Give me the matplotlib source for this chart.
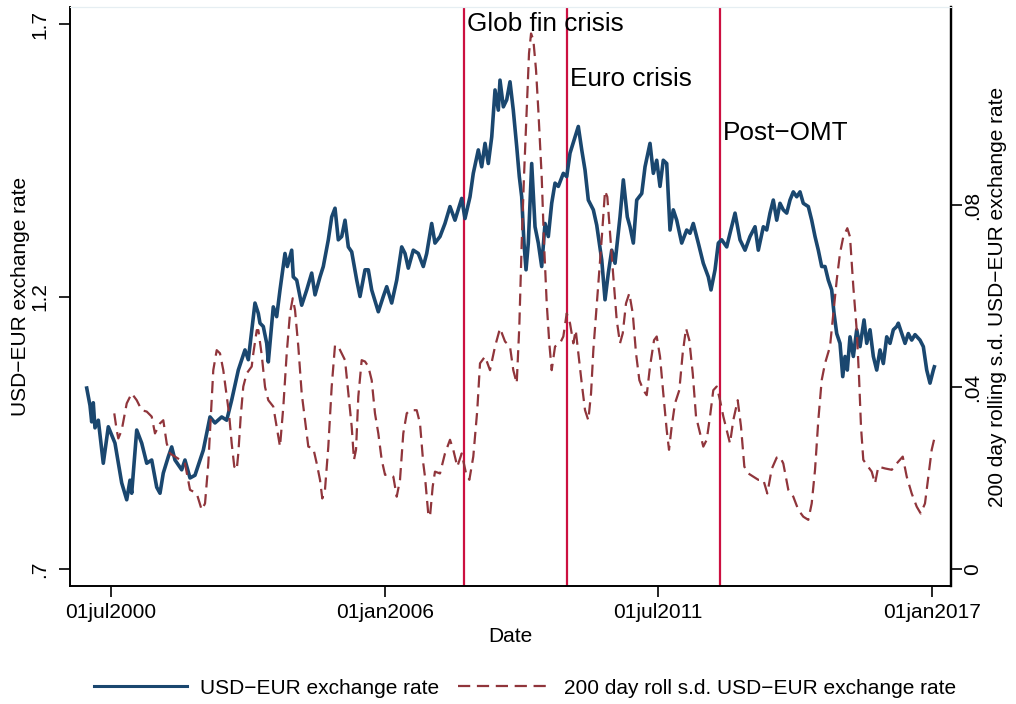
import matplotlib
matplotlib.use("Agg")
import matplotlib.pyplot as plt
from matplotlib.lines import Line2D

plt.rcParams["font.family"] = ["Liberation Sans", "DejaVu Sans"]

# USD-EUR exchange rate (decimal year, rate)
fx_year = [
    2000.012, 2000.078, 2000.112, 2000.144, 2000.178, 2000.245, 2000.345, 2000.446,
    2000.580, 2000.715, 2000.816, 2000.882, 2000.916, 2001.017, 2001.117, 2001.218,
    2001.318, 2001.419, 2001.485, 2001.551, 2001.652, 2001.720, 2001.786, 2001.921,
    2001.987, 2002.088, 2002.188, 2002.355, 2002.490, 2002.590, 2002.725, 2002.826,
    2002.926, 2003.059, 2003.193, 2003.260, 2003.394, 2003.461, 2003.495, 2003.561,
    2003.630, 2003.662, 2003.762, 2003.830, 2003.897, 2003.997, 2004.044, 2004.132,
    2004.164, 2004.233, 2004.333, 2004.434, 2004.534, 2004.601, 2004.701, 2004.767,
    2004.868, 2004.936, 2005.003, 2005.069, 2005.137, 2005.204, 2005.270, 2005.338,
    2005.439, 2005.505, 2005.606, 2005.672, 2005.740, 2005.873, 2005.973, 2006.042,
    2006.142, 2006.243, 2006.343, 2006.410, 2006.476, 2006.576, 2006.677, 2006.777,
    2006.846, 2006.946, 2007.012, 2007.113, 2007.213, 2007.314, 2007.414, 2007.549,
    2007.615, 2007.716, 2007.782, 2007.883, 2007.951, 2008.018, 2008.084, 2008.153,
    2008.219, 2008.285, 2008.319, 2008.386, 2008.454, 2008.520, 2008.586, 2008.655,
    2008.707, 2008.755, 2008.801, 2008.842, 2008.888, 2008.956, 2009.023, 2009.089,
    2009.157, 2009.224, 2009.290, 2009.358, 2009.425, 2009.491, 2009.592, 2009.660,
    2009.726, 2009.827, 2009.893, 2009.962, 2010.028, 2010.094, 2010.195, 2010.263,
    2010.364, 2010.430, 2010.496, 2010.565, 2010.631, 2010.731, 2010.798, 2010.878,
    2010.932, 2010.999, 2011.067, 2011.168, 2011.234, 2011.334, 2011.401, 2011.469,
    2011.535, 2011.601, 2011.670, 2011.736, 2011.802, 2011.871, 2011.971, 2012.072,
    2012.138, 2012.204, 2012.305, 2012.405, 2012.506, 2012.560, 2012.641, 2012.707,
    2012.775, 2012.876, 2012.942, 2013.043, 2013.143, 2013.244, 2013.344, 2013.445,
    2013.511, 2013.612, 2013.680, 2013.746, 2013.812, 2013.881, 2013.947, 2014.013,
    2014.082, 2014.148, 2014.214, 2014.283, 2014.349, 2014.415, 2014.516, 2014.584,
    2014.651, 2014.717, 2014.785, 2014.852, 2014.918, 2014.986, 2015.033, 2015.087,
    2015.153, 2015.208, 2015.254, 2015.300, 2015.354, 2015.421, 2015.489, 2015.555,
    2015.636, 2015.690, 2015.756, 2015.823, 2015.891, 2015.957, 2016.024, 2016.092,
    2016.158, 2016.225, 2016.293, 2016.325, 2016.394, 2016.460, 2016.526, 2016.594,
    2016.661, 2016.761, 2016.828, 2016.896, 2016.962, 2017.029, 2017.049,
]
fx_rate = [
    1.032, 1.000, 0.970, 1.005, 0.959, 0.973, 0.894, 0.961,
    0.931, 0.858, 0.827, 0.863, 0.839, 0.955, 0.931, 0.894,
    0.900, 0.850, 0.839, 0.876, 0.906, 0.924, 0.900, 0.882,
    0.900, 0.867, 0.872, 0.918, 0.979, 0.968, 0.979, 0.973,
    1.010, 1.065, 1.102, 1.084, 1.188, 1.169, 1.151, 1.145,
    1.114, 1.080, 1.181, 1.163, 1.212, 1.279, 1.255, 1.285,
    1.236, 1.230, 1.184, 1.212, 1.243, 1.203, 1.236, 1.255,
    1.304, 1.346, 1.362, 1.304, 1.310, 1.340, 1.291, 1.282,
    1.230, 1.200, 1.249, 1.249, 1.212, 1.172, 1.200, 1.218,
    1.188, 1.230, 1.291, 1.279, 1.252, 1.285, 1.279, 1.255,
    1.279, 1.334, 1.298, 1.310, 1.334, 1.365, 1.340, 1.380,
    1.343, 1.383, 1.426, 1.469, 1.438, 1.481, 1.444, 1.493,
    1.579, 1.542, 1.597, 1.548, 1.561, 1.594, 1.542, 1.475,
    1.420, 1.383, 1.298, 1.249, 1.298, 1.444, 1.328, 1.298,
    1.255, 1.334, 1.310, 1.371, 1.408, 1.402, 1.426, 1.420,
    1.463, 1.493, 1.512, 1.469, 1.432, 1.377, 1.359, 1.331,
    1.267, 1.194, 1.243, 1.285, 1.261, 1.346, 1.414, 1.346,
    1.328, 1.298, 1.377, 1.389, 1.438, 1.481, 1.426, 1.450,
    1.402, 1.450, 1.444, 1.322, 1.359, 1.340, 1.298, 1.322,
    1.316, 1.334, 1.298, 1.261, 1.236, 1.212, 1.249, 1.298,
    1.304, 1.291, 1.316, 1.353, 1.304, 1.285, 1.310, 1.328,
    1.285, 1.328, 1.322, 1.353, 1.377, 1.340, 1.371, 1.359,
    1.353, 1.377, 1.392, 1.383, 1.392, 1.371, 1.365, 1.340,
    1.310, 1.285, 1.255, 1.255, 1.230, 1.212, 1.169, 1.132,
    1.114, 1.053, 1.090, 1.065, 1.126, 1.090, 1.139, 1.108,
    1.157, 1.114, 1.139, 1.090, 1.065, 1.102, 1.077, 1.126,
    1.114, 1.139, 1.145, 1.151, 1.132, 1.114, 1.132, 1.120,
    1.130, 1.120, 1.108, 1.065, 1.041, 1.065, 1.071,
]

# 200 day rolling s.d. (decimal year, s.d.)
sd_year = [
    2000.566, 2000.615, 2000.647, 2000.715, 2000.816, 2000.916, 2001.017, 2001.117,
    2001.218, 2001.318, 2001.384, 2001.485, 2001.551, 2001.620, 2001.686, 2001.786,
    2001.887, 2001.987, 2002.088, 2002.223, 2002.323, 2002.390, 2002.456, 2002.510,
    2002.556, 2002.625, 2002.691, 2002.757, 2002.826, 2002.872, 2002.926, 2002.978,
    2003.027, 2003.059, 2003.107, 2003.159, 2003.228, 2003.328, 2003.361, 2003.430,
    2003.462, 2003.530, 2003.596, 2003.662, 2003.762, 2003.830, 2003.897, 2003.964,
    2004.032, 2004.098, 2004.153, 2004.199, 2004.265, 2004.333, 2004.400, 2004.466,
    2004.567, 2004.635, 2004.701, 2004.747, 2004.801, 2004.868, 2004.936, 2005.003,
    2005.069, 2005.137, 2005.204, 2005.270, 2005.338, 2005.384, 2005.425, 2005.471,
    2005.539, 2005.606, 2005.672, 2005.740, 2005.806, 2005.873, 2005.941, 2006.008,
    2006.108, 2006.175, 2006.243, 2006.309, 2006.375, 2006.444, 2006.510, 2006.576,
    2006.645, 2006.711, 2006.777, 2006.811, 2006.878, 2006.912, 2006.966, 2007.012,
    2007.113, 2007.213, 2007.314, 2007.380, 2007.461, 2007.549, 2007.636, 2007.703,
    2007.782, 2007.862, 2007.917, 2008.018, 2008.118, 2008.219, 2008.319, 2008.420,
    2008.520, 2008.586, 2008.655, 2008.707, 2008.755, 2008.801, 2008.856, 2008.902,
    2008.943, 2008.989, 2009.043, 2009.089, 2009.157, 2009.204, 2009.258, 2009.310,
    2009.358, 2009.425, 2009.525, 2009.592, 2009.660, 2009.726, 2009.793, 2009.841,
    2009.893, 2009.962, 2010.028, 2010.094, 2010.149, 2010.195, 2010.263, 2010.364,
    2010.430, 2010.476, 2010.530, 2010.597, 2010.665, 2010.731, 2010.786, 2010.852,
    2010.918, 2010.987, 2011.053, 2011.120, 2011.200, 2011.268, 2011.334, 2011.415,
    2011.469, 2011.535, 2011.601, 2011.670, 2011.716, 2011.770, 2011.836, 2011.923,
    2011.991, 2012.058, 2012.124, 2012.193, 2012.259, 2012.326, 2012.405, 2012.474,
    2012.540, 2012.606, 2012.675, 2012.741, 2012.808, 2012.876, 2012.942, 2013.008,
    2013.097, 2013.163, 2013.230, 2013.310, 2013.411, 2013.511, 2013.612, 2013.692,
    2013.781, 2013.881, 2013.947, 2014.013, 2014.114, 2014.214, 2014.315, 2014.415,
    2014.516, 2014.584, 2014.651, 2014.717, 2014.785, 2014.852, 2014.952, 2015.019,
    2015.087, 2015.153, 2015.219, 2015.300, 2015.354, 2015.421, 2015.489, 2015.535,
    2015.575, 2015.621, 2015.690, 2015.790, 2015.857, 2015.923, 2016.058, 2016.193,
    2016.293, 2016.414, 2016.494, 2016.594, 2016.695, 2016.775, 2016.861, 2016.928,
    2016.996, 2017.043,
]
sd_value = [
    0.0342, 0.0305, 0.0287, 0.0305, 0.0364, 0.0386, 0.0371, 0.0349,
    0.0346, 0.0335, 0.0298, 0.0320, 0.0327, 0.0276, 0.0254, 0.0247,
    0.0240, 0.0232, 0.0174, 0.0166, 0.0130, 0.0144, 0.0232, 0.0342,
    0.0437, 0.0481, 0.0474, 0.0437, 0.0379, 0.0342, 0.0276, 0.0225,
    0.0218, 0.0254, 0.0335, 0.0401, 0.0430, 0.0445, 0.0474, 0.0525,
    0.0525, 0.0470, 0.0400, 0.0371, 0.0357, 0.0313, 0.0269, 0.0357,
    0.0474, 0.0562, 0.0595, 0.0569, 0.0489, 0.0386, 0.0327, 0.0269,
    0.0265, 0.0232, 0.0196, 0.0155, 0.0174, 0.0269, 0.0401, 0.0492,
    0.0489, 0.0474, 0.0459, 0.0386, 0.0313, 0.0240, 0.0262, 0.0379,
    0.0459, 0.0456, 0.0445, 0.0415, 0.0342, 0.0298, 0.0240, 0.0207,
    0.0207, 0.0203, 0.0159, 0.0196, 0.0298, 0.0342, 0.0349, 0.0349,
    0.0349, 0.0320, 0.0232, 0.0203, 0.0120, 0.0115, 0.0181, 0.0214,
    0.0210, 0.0254, 0.0284, 0.0262, 0.0225, 0.0254, 0.0210, 0.0196,
    0.0247, 0.0349, 0.0452, 0.0467, 0.0437, 0.0489, 0.0529, 0.0500,
    0.0489, 0.0437, 0.0408, 0.0533, 0.0716, 0.0862, 0.1009, 0.1133,
    0.1177, 0.1163, 0.1097, 0.1009, 0.0862, 0.0716, 0.0584, 0.0496,
    0.0437, 0.0489, 0.0496, 0.0511, 0.0562, 0.0540, 0.0496, 0.0525,
    0.0474, 0.0408, 0.0349, 0.0327, 0.0386, 0.0481, 0.0580, 0.0727,
    0.0831, 0.0818, 0.0738, 0.0642, 0.0547, 0.0496, 0.0518, 0.0584,
    0.0606, 0.0562, 0.0474, 0.0415, 0.0393, 0.0382, 0.0445, 0.0503,
    0.0511, 0.0467, 0.0386, 0.0305, 0.0262, 0.0313, 0.0364, 0.0393,
    0.0474, 0.0529, 0.0503, 0.0430, 0.0335, 0.0305, 0.0269, 0.0284,
    0.0335, 0.0393, 0.0401, 0.0371, 0.0335, 0.0305, 0.0276, 0.0327,
    0.0371, 0.0313, 0.0225, 0.0210, 0.0203, 0.0196, 0.0196, 0.0166,
    0.0220, 0.0245, 0.0247, 0.0232, 0.0174, 0.0159, 0.0130, 0.0115,
    0.0108, 0.0144, 0.0218, 0.0327, 0.0415, 0.0452, 0.0489, 0.0562,
    0.0635, 0.0694, 0.0730, 0.0749, 0.0730, 0.0620, 0.0525, 0.0423,
    0.0313, 0.0240, 0.0229, 0.0214, 0.0188, 0.0225, 0.0221, 0.0218,
    0.0232, 0.0247, 0.0203, 0.0166, 0.0137, 0.0122, 0.0144, 0.0203,
    0.0262, 0.0284,
]

# crisis markers
event_year = [2007.60, 2009.67, 2012.74]
event_label = ["Glob fin crisis", "Euro crisis", "Post\u2212OMT"]
event_y = [1.7, 1.6, 1.5]

tick_year = [2000.497, 2006.0, 2011.496, 2017.0]
tick_label = ["01jul2000", "01jan2006", "01jul2011", "01jan2017"]

BLUE = "#1a476f"
RED = "#90353b"
VLINE = "#cc1040"
FS = 15
DASH = (5.5, 3.0)

fig = plt.figure(figsize=(10.16, 7.04), dpi=100)
ax = fig.add_axes([70 / 1016, 118 / 704, 881 / 1016, 579 / 704])
ax2 = ax.twinx()

for xv in event_year:
    ax.axvline(xv, color=VLINE, lw=1.6, zorder=1)

ax.plot(fx_year, fx_rate, color=BLUE, lw=2.6, zorder=2)
ax2.plot(sd_year, sd_value, color=RED, lw=1.6, dashes=DASH)

for xv, lab, yv in zip(event_year, event_label, event_y):
    ax.text(xv + 0.05, yv, lab, fontsize=18.8, ha="left", va="center", zorder=5)

ax.set_xlim(1999.676, 2017.384)
ax.set_ylim(0.6688, 1.7312)
ax2.set_ylim(-0.003736, 0.12352)

ax.set_xticks(tick_year)
ax.set_xticklabels(tick_label, fontsize=FS)
ax.set_yticks([0.7, 1.2, 1.7])
ax.set_yticklabels([".7", "1.2", "1.7"], fontsize=FS, rotation=90, va="center")
ax2.set_yticks([0, 0.04, 0.08])
ax2.set_yticklabels(["0", ".04", ".08"], fontsize=FS, rotation=90, va="center")

ax.tick_params(axis="x", length=8, width=1.2, pad=4)
ax.tick_params(axis="y", length=8, width=1.2, pad=7)
ax2.tick_params(axis="y", length=8, width=1.2, pad=1)

ax.set_xlabel("Date", fontsize=FS, labelpad=4)
ax.set_ylabel("USD\u2212EUR exchange rate", fontsize=FS, labelpad=0)
ax2.set_ylabel("200 day rolling s.d. USD\u2212EUR exchange rate", fontsize=FS, labelpad=4)

for a in (ax, ax2):
    a.spines["top"].set_color("#e6eef2")
    a.spines["left"].set_linewidth(1.2)
    a.spines["bottom"].set_linewidth(1.2)
    a.spines["right"].set_linewidth(1.6)

handles = [
    Line2D([], [], color=BLUE, lw=2.2),
    Line2D([], [], color=RED, lw=1.6, dashes=DASH),
]
labels = ["USD\u2212EUR exchange rate", "200 day roll s.d. USD\u2212EUR exchange rate"]
fig.legend(handles, labels, loc="center", bbox_to_anchor=(525 / 1016, 1 - 688 / 704),
           ncol=2, frameon=False, fontsize=FS, handlelength=4.5,
           handletextpad=0.6, columnspacing=0.9)

fig.savefig("out.png", dpi=100)
